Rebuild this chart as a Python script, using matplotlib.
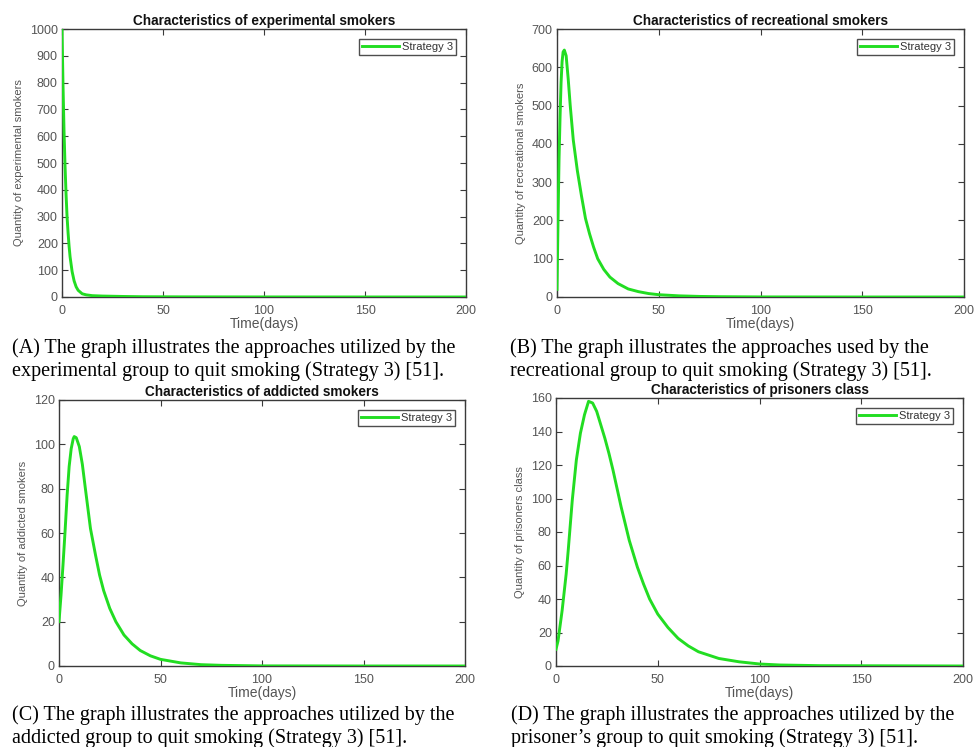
import matplotlib
matplotlib.use("Agg")
import matplotlib.pyplot as plt

# ---------------- data ----------------
days = [0, 50, 100, 150, 200]

exp_t = [0, 0.5, 1, 1.5, 2, 2.5, 3, 3.5, 4, 5, 6, 7, 8, 10, 12, 15, 20, 30, 40, 60, 100, 150, 200]
exp_v = [1000, 790, 620, 490, 385, 300, 240, 190, 150, 95, 60, 38, 25, 12, 8, 5, 3.5, 2, 1, 0.5, 0.2, 0.05, 0]

rec_t = [0, 0.5, 1, 1.5, 2, 2.5, 3, 3.6, 4.5, 5.5, 6.5, 8, 10, 12, 14, 16, 18, 20, 23, 26, 30, 35,
         40, 45, 50, 60, 70, 80, 100, 150, 200]
rec_v = [20, 200, 360, 470, 560, 615, 640, 645, 630, 570, 500, 410, 330, 265, 205, 165, 130, 100, 72,
         52, 35, 21, 14, 9, 6, 3, 1.5, 0.8, 0.2, 0, 0]

add_t = [0, 1, 2, 3, 4, 5, 6, 7, 7.5, 8.5, 10, 11.5, 13, 15.5, 18, 20, 22, 25, 28, 32, 36, 40, 45,
         50, 60, 70, 80, 100, 150, 200]
add_v = [20, 32, 46, 61, 77, 90, 98, 102.5, 103.5, 103, 99, 91, 80, 62, 50, 41, 34, 26, 20, 14, 10,
         7, 4.6, 3, 1.4, 0.6, 0.3, 0.05, 0, 0]

pri_t = [0, 1, 2, 3, 4, 5, 6, 7, 8, 9, 10, 12, 14, 16, 18, 20, 22, 24, 26, 28, 30, 32, 34, 36, 38,
         40, 43, 46, 50, 55, 60, 65, 70, 80, 90, 100, 110, 130, 200]
pri_v = [10, 15, 24, 33, 44, 55, 69, 84, 99, 111, 123, 139, 150, 158, 157, 152, 144, 136, 127, 117,
         106, 95, 85, 75, 67, 59, 49, 40, 31, 23, 16.5, 12, 8.5, 4.5, 2.5, 1.2, 0.6, 0.2, 0]

titles = ["Characteristics of experimental smokers", "Characteristics of recreational smokers",
          "Characteristics of addicted smokers", "Characteristics of prisoners class"]
ylabels = ["Quantity of experimental smokers", "Quantity of recreational smokers",
           "Quantity of addicted smokers", "Quantity of prisoners class"]
yticks = [list(range(0, 1001, 100)), list(range(0, 701, 100)),
          list(range(0, 121, 20)), list(range(0, 161, 20))]
legend_label = "Strategy 3"
xlabel = "Time(days)"
captions = [
    ["(A) The graph illustrates the approaches utilized by the",
     "experimental group to quit smoking (Strategy 3) [51]."],
    ["(B) The graph illustrates the approaches used by the",
     "recreational group to quit smoking (Strategy 3) [51]."],
    ["(C) The graph illustrates the approaches utilized by the",
     "addicted group to quit smoking (Strategy 3) [51]."],
    ["(D) The graph illustrates the approaches utilized by the",
     "prisoner\u2019s group to quit smoking (Strategy 3) [51]."],
]
series = [(exp_t, exp_v), (rec_t, rec_v), (add_t, add_v), (pri_t, pri_v)]

# ---------------- layout ----------------
W, H = 974, 747
fig = plt.figure(figsize=(W / 100, H / 100), dpi=100)
fig.patch.set_facecolor("white")

# axes boxes in pixels: left, right, top, bottom
boxes = [(62, 466, 29, 297), (557, 964, 29, 297), (59, 465, 400, 666), (556, 963, 398, 666)]
# caption left x and baselines of the two lines
cap_pos = [(12, 353, 376), (510, 353, 376), (12, 720, 743), (511, 720, 743)]

sans = ["Liberation Sans", "DejaVu Sans"]
serif = ["Liberation Serif", "DejaVu Serif"]
green = "#22dd22"
axcol = "#3a3a3a"
txtcol = "#555555"

for i in range(4):
    l, r, t, b = boxes[i]
    ax = fig.add_axes([l / W, (H - b) / H, (r - l) / W, (b - t) / H])
    x, y = series[i]
    ax.plot(x, y, color=green, lw=2.1, label=legend_label, solid_joinstyle="round", zorder=3)
    ax.set_xlim(0, 200)
    ax.set_ylim(yticks[i][0], yticks[i][-1])
    ax.set_xticks(days)
    ax.set_yticks(yticks[i])
    ax.tick_params(direction="in", top=True, right=True, length=4, width=0.8,
                   colors=axcol, labelcolor=txtcol, labelsize=9)
    ax.tick_params(axis="x", pad=6)
    ax.tick_params(axis="y", pad=3)
    for lab in ax.get_xticklabels() + ax.get_yticklabels():
        lab.set_family(sans)
    for s in ax.spines.values():
        s.set_color(axcol)
        s.set_linewidth(1.0)
    ax.set_title(titles[i], fontsize=9.8, fontweight="bold", family=sans, color="#111111", pad=3)
    ax.set_xlabel(xlabel, fontsize=10, family=sans, color=txtcol, labelpad=0)
    ax.set_ylabel(ylabels[i], fontsize=8, family=sans, color=txtcol, labelpad=4)
    leg = ax.legend(loc="upper right", frameon=True, fancybox=False,
                    edgecolor="#222222", handlelength=3.3, borderpad=0.25, handletextpad=0.3,
                    borderaxespad=0.9, prop={"family": sans, "size": 8})
    leg.get_frame().set_linewidth(1.0)
    for txt in leg.get_texts():
        txt.set_color("#333333")
    cx, b1, b2 = cap_pos[i]
    fig.text(cx / W, 1 - b1 / H, captions[i][0], family=serif, fontsize=14.5,
             va="baseline", ha="left", color="black")
    fig.text(cx / W, 1 - b2 / H, captions[i][1], family=serif, fontsize=14.5,
             va="baseline", ha="left", color="black")

fig.savefig("out.png", dpi=100, facecolor="white")
